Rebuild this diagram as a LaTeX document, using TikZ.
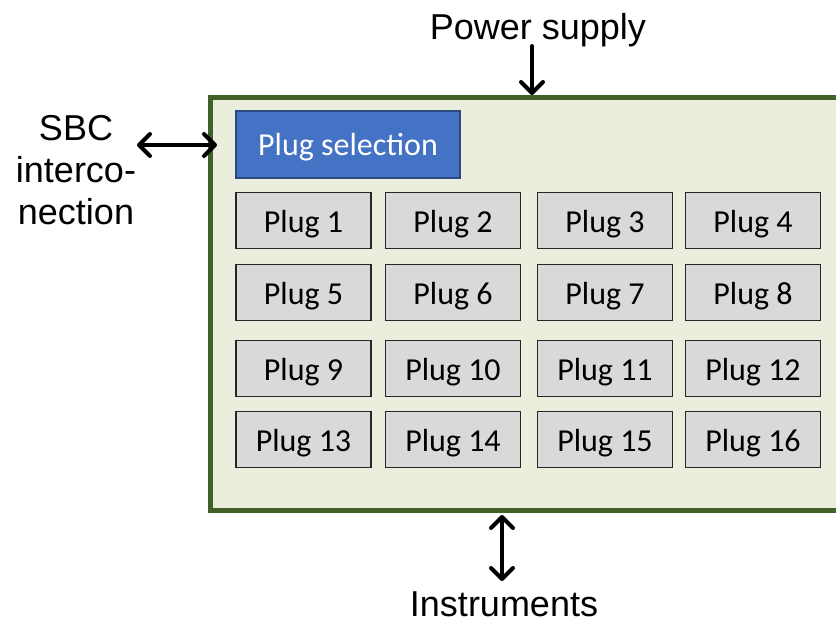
\documentclass[tikz,border=0pt]{standalone}
\usepackage{fontspec}
\setmainfont{Liberation Sans}
\newfontfamily\calibrifont{Carlito}
\usetikzlibrary{arrows.meta}
\definecolor{panelborder}{HTML}{42612A}
\definecolor{panelfill}{HTML}{EBEEDD}
\definecolor{plugfill}{HTML}{D9D9D9}
\definecolor{selfill}{HTML}{4472C4}
\definecolor{selborder}{HTML}{2A4A80}
\begin{document}
\begin{tikzpicture}[x=1pt,y=-1pt,
  panel/.style={draw=panelborder,fill=panelfill,line width=5pt,minimum width=636pt,minimum height=413pt,inner sep=0pt},
  plugbox/.style={draw=black!85,fill=plugfill,line width=1.4pt,minimum width=135pt,minimum height=56pt,inner sep=0pt,text height=23pt,text depth=0pt,font=\calibrifont\fontsize{32}{38}\selectfont},
  selbox/.style={draw=selborder,fill=selfill,line width=1.4pt,minimum width=224pt,minimum height=67pt,inner sep=0pt,text height=22pt,text depth=0pt,text=white,font=\calibrifont\fontsize{32}{38}\selectfont},
  lbl/.style={inner sep=0pt,font=\fontsize{36}{42}\selectfont},
  conn/.style={line width=4pt,line cap=round,line join=round},
  mybarb/.tip={Straight Barb[length=11pt,width=22pt,line cap=round,line join=round]}
]
\useasboundingbox (0,0) rectangle (836,619);
\clip (0,0) rectangle (836,619);
\node[panel] (panel) at (528,303.5) {};
\node[selbox] (sel) at (348,144.3) {Plug selection};
\foreach \r/\yy in {0/220.5,1/292.5,2/368.5,3/439.5}{
  \foreach \c/\xx in {1/303.5,2/453,3/605,4/753}{
    \pgfmathtruncatemacro{\n}{\r*4+\c}
    \node[plugbox] (plug\n) at (\xx,\yy) {Plug \n};
  }
}
\node[lbl,anchor=base] (power) at (538,39.5) {Power supply};
\node[lbl,anchor=base] (instr) at (504,616) {Instruments};
\node[lbl,align=center] (sbc) at (76,170) {SBC\\interco-\\nection};
\coordinate (sbcA) at (137,145);
\coordinate (sbcB) at (217,145);
\coordinate (powA) at (532,46);
\coordinate (powB) at (532,95);
\coordinate (insA) at (502,515);
\coordinate (insB) at (502,581);
\draw[conn,mybarb-mybarb] (sbcA) -- (sbcB);
\draw[conn,-mybarb] (powA) -- (powB);
\draw[conn,mybarb-mybarb] (insA) -- (insB);
\end{tikzpicture}
\end{document}
